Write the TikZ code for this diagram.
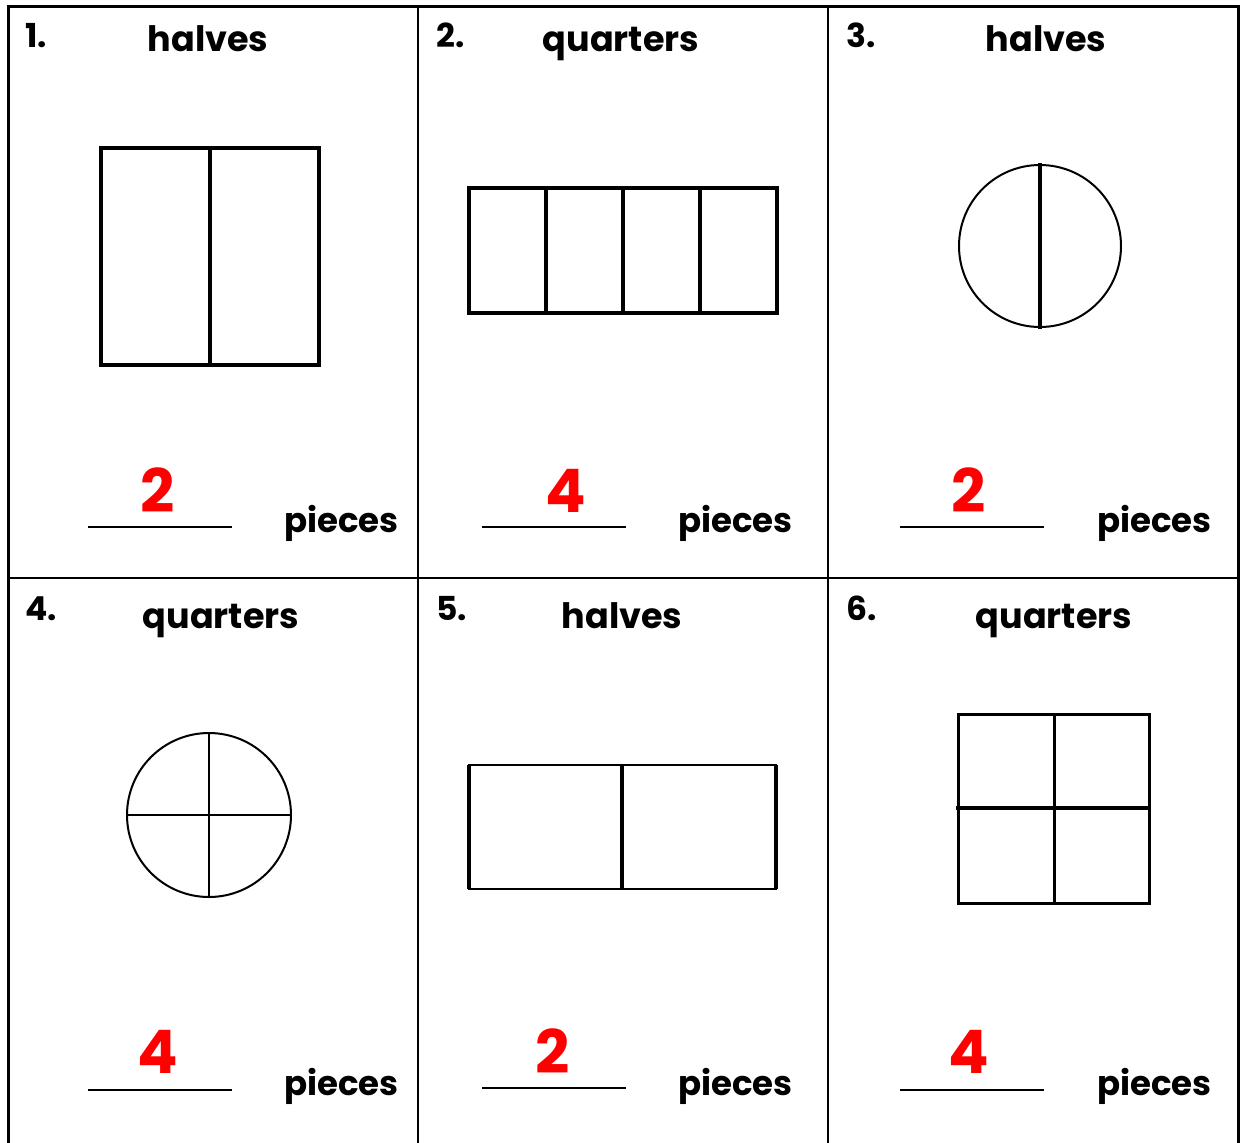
\documentclass[tikz,border=0pt]{standalone}
\usepackage{fontspec}
\setmainfont{Poppins}
\usetikzlibrary{positioning}

\begin{document}
\begin{tikzpicture}[x=1pt, y=-1pt,
    qnum/.style={font=\fontsize{33}{33}\selectfont\bfseries, anchor=base west, inner sep=0pt},
    title/.style={font=\fontsize{35}{35}\selectfont\bfseries, anchor=base, inner sep=0pt},
    answer/.style={font=\fontsize{60}{60}\selectfont\bfseries, text=red, anchor=base, inner sep=0pt},
    unit/.style={font=\fontsize{34}{34}\selectfont\bfseries, anchor=base west, inner sep=0pt},
    blank/.style={line width=1.8pt},
    part/.style={line width=3.5pt}]
  \useasboundingbox (0,0) rectangle (1243,1143);
  % Grid
  \draw[line width=3pt] (8,1143) -- (8,6) -- (1238,6) -- (1238,1143);
  \draw[line width=2.2pt] (418,6) -- (418,1143) (828,6) -- (828,1143) (8,578) -- (1238,578);

  % Panel 1
  \node[qnum] (n1) at (25,47) {1.};
  \node[title] (t1) at (208,51) {halves};
  \draw[part] (101,148) rectangle (319,365);
  \draw[part] (210,148) -- (210,365);
  \node[answer] (a1) at (158,512) {2};
  \draw[blank] (88,527) -- (232,527);
  \node[unit] (p1) at (284,532) {pieces};

  % Panel 2
  \node[qnum] (n2) at (436,47) {2.};
  \node[title] (t2) at (621,51) {quarters};
  \draw[line width=4.5pt] (469,188) rectangle (777,313);
  \foreach \x in {546,623,700}
    \draw[line width=4pt] (\x,188) -- (\x,313);
  \node[answer] (a2) at (566,512) {4};
  \draw[blank] (482,527) -- (626,527);
  \node[unit] (p2) at (678,532) {pieces};

  % Panel 3
  \node[qnum] (n3) at (846,47) {3.};
  \node[title] (t3) at (1046,51) {halves};
  \draw[line width=2pt] (1040,246) circle[radius=81];
  \draw[part] (1040,163) -- (1040,329);
  \node[answer] (a3) at (969,512) {2};
  \draw[blank] (900,527) -- (1044,527);
  \node[unit] (p3) at (1097,532) {pieces};

  % Panel 4
  \node[qnum] (n4) at (25,620) {4.};
  \node[title] (t4) at (221,628) {quarters};
  \draw[line width=2pt] (209,815) circle[radius=82];
  \draw[line width=2pt] (127,815) -- (291,815) (209,733) -- (209,897);
  \node[answer] (a4) at (158,1073) {4};
  \draw[blank] (88,1090) -- (232,1090);
  \node[unit] (p4) at (284,1095) {pieces};

  % Panel 5
  \node[qnum] (n5) at (436,620) {5.};
  \node[title] (t5) at (622,628) {halves};
  \draw[line width=2pt] (469,765) rectangle (776,889);
  \draw[line width=4.5pt] (469,765) -- (469,889) (622,765) -- (622,889) (776,765) -- (776,889);
  \node[answer] (a5) at (553,1073) {2};
  \draw[blank] (482,1088) -- (626,1088);
  \node[unit] (p5) at (678,1095) {pieces};

  % Panel 6
  \node[qnum] (n6) at (846,620) {6.};
  \node[title] (t6) at (1054,628) {quarters};
  \draw[line width=3pt] (958,714) rectangle (1149,903);
  \draw[line width=3pt] (1054,714) -- (1054,903);
  \draw[line width=4.5pt] (956,808) -- (1151,808);
  \node[answer] (a6) at (969,1073) {4};
  \draw[blank] (900,1090) -- (1044,1090);
  \node[unit] (p6) at (1097,1095) {pieces};
\end{tikzpicture}
\end{document}
